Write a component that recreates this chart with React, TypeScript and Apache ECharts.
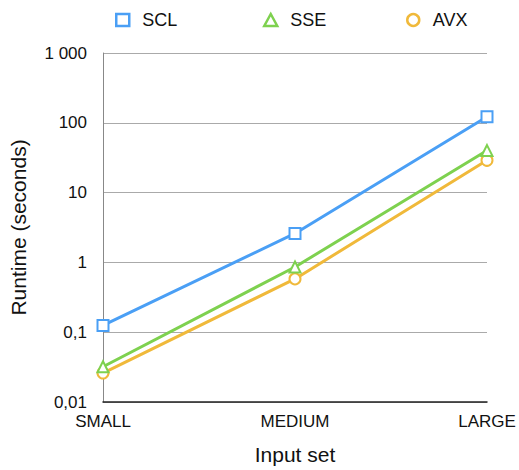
import React, { useEffect, useRef } from "react";
import * as echarts from "echarts";

const categories = ["SMALL", "MEDIUM", "LARGE"];
const sclValues = [0.125, 2.6, 122];
const sseValues = [0.032, 0.86, 40];
const avxValues = [0.026, 0.58, 29];
const seriesNames = ["SCL", "SSE", "AVX"];
const seriesColors = ["#4a9ff5", "#7ed14f", "#f0b93a"];

const fmt = (v: number) => {
  const labels: Record<string, string> = {
    "0.01": "0,01",
    "0.1": "0,1",
    "1": "1",
    "10": "10",
    "100": "100",
    "1000": "1 000",
  };
  const k = String(Number(v.toPrecision(6)));
  return labels[k] ?? k.replace(".", ",");
};

export default function App() {
  const ref = useRef<HTMLDivElement>(null);
  useEffect(() => {
    const chart = echarts.init(ref.current!, undefined, { renderer: "svg" });
    const font = "Liberation Sans, Arial, Helvetica, sans-serif";
    const data = [sclValues, sseValues, avxValues];
    const symbols = ["emptyRect", "emptyTriangle", "emptyCircle"];
    const legendLefts = [110, 258, 401];
    chart.setOption({
      animation: false,
      textStyle: { fontFamily: font },
      legend: seriesNames.map((n, i) => ({
        top: 6,
        left: legendLefts[i],
        itemWidth: 13,
        itemHeight: 12,
        textStyle: { fontSize: 18, color: "#111", fontFamily: font, padding: [0, 0, 0, 8] },
        itemStyle: { color: "#fff", borderColor: seriesColors[i], borderWidth: 2.5 },
        data: [{ name: n, icon: ["rect", "triangle", "circle"][i] }],
      })),
      grid: { left: 101, right: 32, top: 53, bottom: 66 },
      xAxis: {
        type: "category",
        data: categories,
        boundaryGap: false,
        name: "Input set",
        nameLocation: "middle",
        nameGap: 42,
        nameTextStyle: { fontSize: 21, color: "#111" },
        axisLine: { lineStyle: { color: "#222", width: 1.5 } },
        axisTick: { show: false },
        axisLabel: { fontSize: 17, color: "#111", margin: 11 },
      },
      yAxis: {
        type: "log",
        logBase: 10,
        min: 0.01,
        max: 1000,
        name: "Runtime (seconds)",
        nameLocation: "middle",
        nameGap: 74,
        nameTextStyle: { fontSize: 21, color: "#111" },
        axisLine: { show: true, lineStyle: { color: "#888", width: 1 } },
        axisTick: { show: false },
        splitLine: { lineStyle: { color: "#aaa", width: 1 } },
        minorTick: { show: false },
        axisLabel: { fontSize: 17, color: "#111", margin: 16, formatter: fmt },
      },
      series: seriesNames.map((n, i) => ({
        name: n,
        type: "line",
        data: data[i],
        symbol: symbols[i],
        symbolSize: 11,
        color: seriesColors[i],
        lineStyle: { width: 3, color: seriesColors[i] },
        itemStyle: { color: seriesColors[i], borderWidth: 2.5, borderColor: seriesColors[i] },
        z: 3 - i,
      })),
    });
    return () => chart.dispose();
  }, []);
  return <div ref={ref} style={{ width: 519, height: 470, position: "absolute", left: 0, top: 0 }} />;
}
